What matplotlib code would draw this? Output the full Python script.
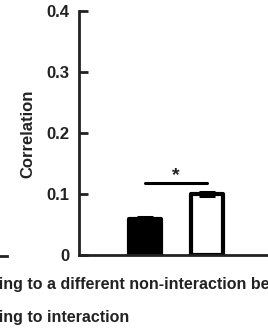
import matplotlib
matplotlib.use('Agg')
import matplotlib.pyplot as plt
from matplotlib.lines import Line2D

plt.rcParams['font.family'] = ['Liberation Sans', 'DejaVu Sans']
plt.rcParams['font.weight'] = 'bold'

# --- data ---
groups      = ['Transitioning to a different non-interaction behavior',
               'Transitioning to interaction']
bar_pos     = [1, 2]
correlation = [0.059, 0.100]
sem         = [0.003, 0.004]
bar_faces   = ['black', 'white']
sig_pair    = [1, 2]
sig_height  = 0.118
sig_label   = '*'
y_ticks     = [0, 0.1, 0.2, 0.3, 0.4]
y_labels    = ['0', '0.1', '0.2', '0.3', '0.4']

W, H = 268, 328
fig = plt.figure(figsize=(W / 100, H / 100), dpi=100)
ax = fig.add_axes([79 / W, 1 - 255 / H, 1 - 79 / W, 244 / H])

ink = '#222222'

ax.bar(bar_pos, correlation, width=0.52, color=bar_faces, edgecolor='black',
       linewidth=3, joinstyle='round', zorder=2)
for x, m, e, c in zip(bar_pos, correlation, sem, bar_faces):
    ax.errorbar(x, m, yerr=e, fmt='none', ecolor='black', elinewidth=3,
                capsize=6, capthick=2.2, zorder=3)

# significance bracket
ax.plot(sig_pair, [sig_height, sig_height], color='black', lw=2.2,
        solid_capstyle='round', zorder=3)
ax.text(sum(sig_pair) / 2, sig_height + 0.013, sig_label, ha='center',
        va='center', fontsize=14, fontweight='bold', color=ink)

ax.set_xlim(-0.0645, 2.984)
ax.set_ylim(0, 0.4)
ax.set_yticks(y_ticks)
ax.set_yticklabels(y_labels)
ax.set_xticks([])

for s in ['top', 'right']:
    ax.spines[s].set_visible(False)
for s in ['left', 'bottom']:
    ax.spines[s].set_linewidth(2)
    ax.spines[s].set_color(ink)
ax.tick_params(axis='y', direction='in', length=6.5, width=2, color=ink,
               labelsize=12, labelcolor=ink, pad=7)
for lbl in ax.get_yticklabels():
    lbl.set_fontweight('bold')

fig.text(28 / W, 1 - 134 / H, 'Correlation', rotation=90, ha='center',
         va='center', fontsize=12, fontweight='bold', color=ink)

# legend text, running off the left and right edges
renderer = fig.canvas.get_renderer()
probe_a = fig.text(0, 0, 'Transitioning to', fontsize=11.5, fontweight='bold')
probe_b = fig.text(0, 0, 'to', fontsize=11.5, fontweight='bold')
shift = (probe_a.get_window_extent(renderer).width
         - probe_b.get_window_extent(renderer).width)
probe_a.remove()
probe_b.remove()
x0 = (27 - shift) / W
for label, ypix in zip(groups, [283, 316]):
    fig.text(x0, 1 - ypix / H, label, ha='left', va='center_baseline',
             fontsize=11.5, fontweight='bold', color=ink)

# stub of a neighbouring axis at the far left
fig.add_artist(Line2D([0, 7 / W], [1 - 256 / H, 1 - 256 / H],
                      transform=fig.transFigure, color=ink, lw=2))

fig.savefig('out.png', dpi=100)
